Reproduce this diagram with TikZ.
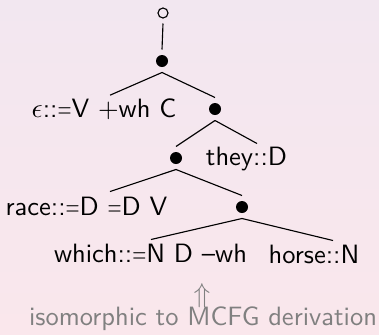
\documentclass[tikz,border=0pt]{standalone}
\usepackage{graphicx}
\usetikzlibrary{calc}
\definecolor{bgtop}{RGB}{242,231,240}
\definecolor{bgbot}{RGB}{250,231,236}
\definecolor{fadetext}{RGB}{128,128,128}
\newcommand\eqs{\scalebox{0.68}[1]{=}}
\begin{document}
\begin{tikzpicture}[x=0.4pt,y=-0.4pt,
  dot/.style={circle,fill=black,inner sep=0pt,minimum size=4.8pt,outer sep=2.2pt},
  opendot/.style={circle,draw=black,line width=0.45pt,inner sep=0pt,minimum size=4.0pt,outer sep=2.2pt},
  lab/.style={inner sep=0pt,anchor=base,font=\fontsize{10.6}{12}\selectfont\sffamily},
  fade/.style={inner sep=0pt,anchor=base,font=\fontsize{10.6}{12}\selectfont\sffamily,text=fadetext},
  edge/.style={line width=0.45pt}]
\shade[top color=bgtop,bottom color=bgbot] (0,0) rectangle (379,334);
\useasboundingbox (0,0) rectangle (379,334);
\node[opendot] (c) at (163,13) {};
\node[dot] (r) at (162,61) {};
\node[lab] (eps) at (104,117) {$\epsilon$::\eqs V +wh C};
\node[dot] (n1) at (215,109) {};
\node[dot] (n2) at (176,158) {};
\node[lab] (they) at (246.5,165) {they::D};
\node[lab] (race) at (86.5,215) {race::\eqs D \eqs D V};
\node[dot] (n3) at (242,207) {};
\node[lab] (which) at (150.5,262) {which::\eqs N D --wh};
\node[lab] (horse) at (314,263) {horse::N};
\node[fade] (arr) at (202,302) {$\Uparrow$};
\node[fade] (iso) at (203,325) {isomorphic to MCFG derivation};
\draw[edge] (c.south) -- (r.north);
\draw[edge] (r.south) -- ($(eps.north)+(6,-2.6)$);
\draw[edge] (r.south) -- (n1.north);
\draw[edge] (n1.south) -- (n2.north);
\draw[edge] (n1.south) -- ($(they.north)+(10.5,-2.6)$);
\draw[edge] (n2.south) -- ($(race.north)+(23.5,-4.6)$);
\draw[edge] (n2.south) -- (n3.north);
\draw[edge] (n3.south) -- ($(which.north)+(0.5,-3.6)$);
\draw[edge] (n3.south) -- ($(horse.north)+(19,-3.6)$);
\end{tikzpicture}
\end{document}
